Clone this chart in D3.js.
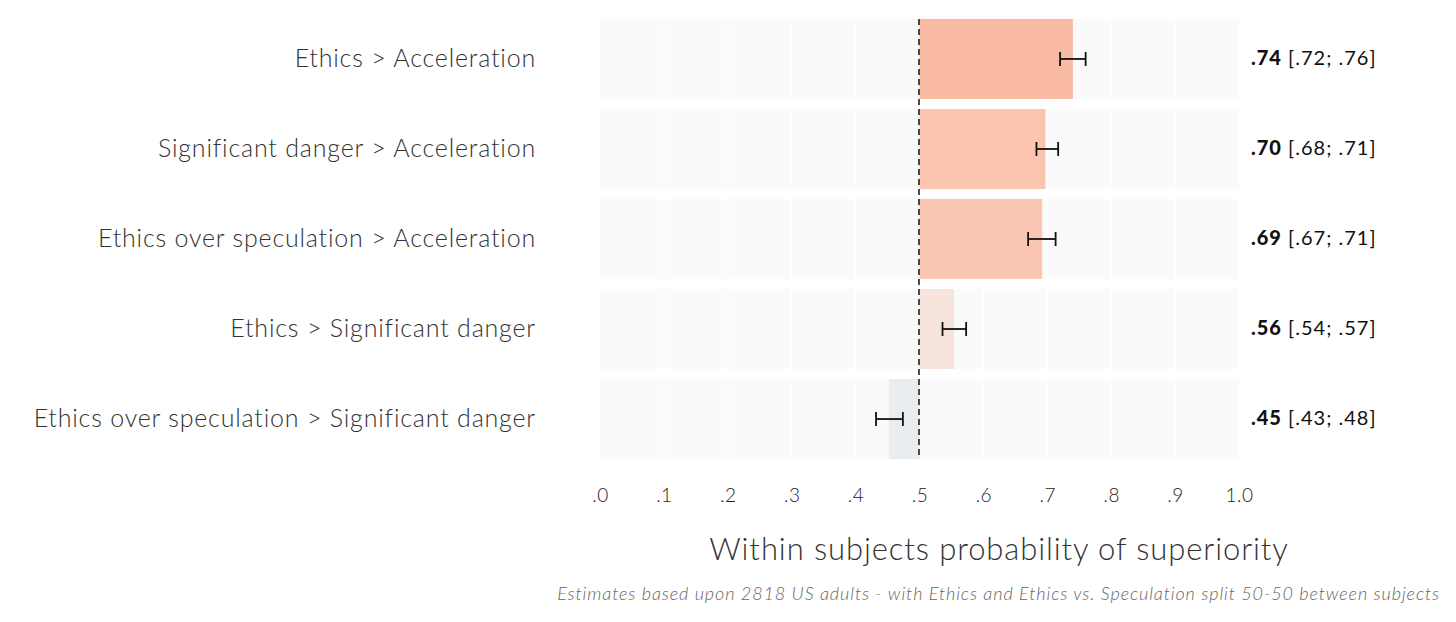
<!DOCTYPE html>
<html><head><meta charset="utf-8">
<script src="https://cdn.jsdelivr.net/npm/d3@7"></script>
<style>
body{margin:0;background:#fff;}
svg{display:block;}
text{font-family:"Lato","Open Sans",sans-serif;}
</style></head>
<body>
<svg id="chart" width="1456" height="622"></svg>
<script>
const categories = ["Ethics > Acceleration","Significant danger > Acceleration","Ethics over speculation > Acceleration","Ethics > Significant danger","Ethics over speculation > Significant danger"];
const estimates = [0.74, 0.697, 0.692, 0.554, 0.452];
const lower = [0.72, 0.683, 0.67, 0.536, 0.432];
const upper = [0.76, 0.717, 0.713, 0.573, 0.474];
const labelEst = [".74", ".70", ".69", ".56", ".45"];
const labelCI = ["[.72; .76]", "[.68; .71]", "[.67; .71]", "[.54; .57]", "[.43; .48]"];
const barColors = ["#f9bba3", "#fbc5b0", "#fbc6b1", "#f7e4dd", "#e9edf0"];
const tickValues = [0,0.1,0.2,0.3,0.4,0.5,0.6,0.7,0.8,0.9,1.0];
const tickLabels = [".0",".1",".2",".3",".4",".5",".6",".7",".8",".9","1.0"];

const svg = d3.select("#chart");
const x = d3.scaleLinear().domain([0,1]).range([600,1239]);
const y = d3.scaleBand().domain(categories).range([14,464]).paddingInner(0.111).paddingOuter(0.055);

// panel backgrounds
const rows = svg.append("g");
categories.forEach((c,i)=>{
  rows.append("rect").attr("x",x(0)).attr("y",y(c)).attr("width",x(1)-x(0)).attr("height",y.bandwidth()).attr("fill","#fafafa");
});
// white grid lines
svg.append("g").selectAll("line").data(tickValues.slice(1,-1)).join("line")
  .attr("x1",d=>x(d)).attr("x2",d=>x(d)).attr("y1",y.range()[0]).attr("y2",y.range()[1])
  .attr("stroke","#fff").attr("stroke-width",1.2);

// bars
svg.append("g").selectAll("rect").data(categories).join("rect")
  .attr("x",(d,i)=>Math.min(x(0.5),x(estimates[i])))
  .attr("y",d=>y(d))
  .attr("width",(d,i)=>Math.abs(x(estimates[i])-x(0.5)))
  .attr("height",y.bandwidth())
  .attr("fill",(d,i)=>barColors[i]);

// dashed line
svg.append("line").attr("x1",x(0.5)-0.5).attr("x2",x(0.5)-0.5)
  .attr("y1",y(categories[0])).attr("y2",y(categories[4])+y.bandwidth())
  .attr("stroke","#111").attr("stroke-width",1.5).attr("stroke-dasharray","6,4");

// error bars
const eb = svg.append("g").attr("stroke","#111").attr("stroke-width",1.8);
categories.forEach((c,i)=>{
  const cy = y(c)+y.bandwidth()/2;
  eb.append("line").attr("x1",x(lower[i])).attr("x2",x(upper[i])).attr("y1",cy).attr("y2",cy);
  eb.append("line").attr("x1",x(lower[i])).attr("x2",x(lower[i])).attr("y1",cy-7).attr("y2",cy+7);
  eb.append("line").attr("x1",x(upper[i])).attr("x2",x(upper[i])).attr("y1",cy-7).attr("y2",cy+7);
});

// category labels
svg.append("g").selectAll("text").data(categories).join("text")
  .attr("x",536).attr("y",d=>y(d)+y.bandwidth()/2 - 1).attr("dy","0.35em")
  .attr("text-anchor","end").attr("font-size",25).attr("font-weight",300).attr("fill","#333")
  .attr("letter-spacing","0.8px")
  .text(d=>d);

// right labels
const rl = svg.append("g").selectAll("text").data(categories).join("text")
  .attr("x",1251).attr("y",d=>y(d)+y.bandwidth()/2 - 1).attr("dy","0.35em")
  .attr("font-size",20).attr("fill","#111").attr("letter-spacing","1px");
rl.append("tspan").attr("font-weight",900).text((d,i)=>labelEst[i]);
rl.append("tspan").attr("font-weight",400).text((d,i)=>" "+labelCI[i]);

// x axis
const axis = svg.append("g").attr("transform","translate(0,483)")
  .call(d3.axisBottom(x).tickValues(tickValues).tickFormat((d,i)=>tickLabels[i]).tickSize(0).tickPadding(6));
axis.select(".domain").remove();
axis.selectAll("text").attr("font-size",19).attr("font-family","Lato, 'Open Sans', sans-serif").attr("fill","#222").attr("font-weight",300).attr("letter-spacing","0.5px");

// axis title
svg.append("text").attr("x",999).attr("y",560).attr("text-anchor","middle")
  .attr("font-size",31).attr("font-weight",300).attr("fill","#333").attr("letter-spacing","0.9px")
  .text("Within subjects probability of superiority");

// caption
svg.append("text").attr("x",1440).attr("y",600).attr("text-anchor","end")
  .attr("font-size",18).attr("font-style","italic").attr("fill","#666").attr("font-weight",300)
  .attr("letter-spacing","0.9px")
  .text("Estimates based upon 2818 US adults - with Ethics and Ethics vs. Speculation split 50-50 between subjects");
</script>
</body></html>
